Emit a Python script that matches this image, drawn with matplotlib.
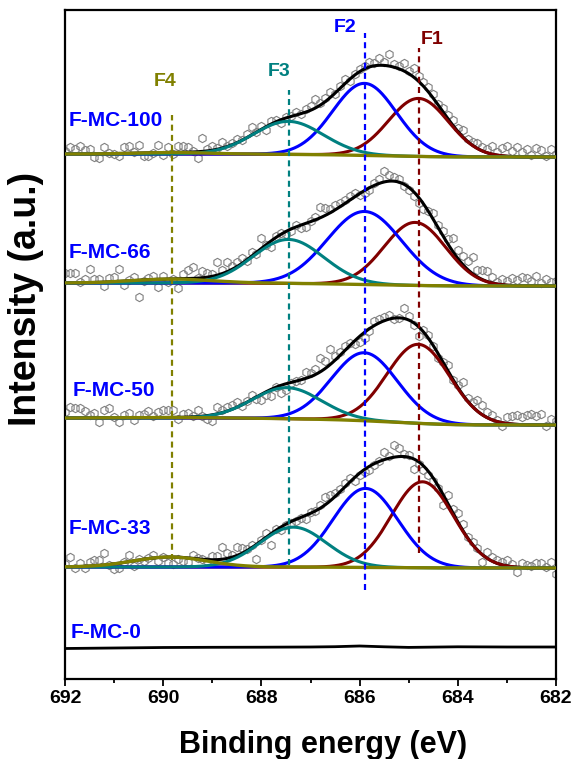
import numpy as np
import matplotlib
matplotlib.use('Agg')
import matplotlib.pyplot as plt

plt.rcParams['font.family'] = ['Liberation Sans', 'DejaVu Sans']
plt.rcParams['font.weight'] = 'bold'

# binding energy grid of the measured points (692 -> 682 eV, 0.1 eV step)
be = np.round(np.arange(692.0, 681.95, -0.1), 1)

# measured F 1s points, height above each spectrum's baseline (a.u.)
int_100 = [3, 7, 5, 8, 4, 5, -3, -4, 7, 1,
           0, -2, 7, 8, 2, 9, -2, -2, 1, 9,
           -1, 7, 0, 8, 8, 7, 3, -4, 16, 5,
           8, 6, 12, 8, 11, 15, 14, 20, 27, 22,
           28, 24, 33, 34, 31, 37, 38, 42, 40, 45,
           48, 55, 51, 56, 62, 60, 68, 75, 73, 80,
           85, 88, 92, 91, 96, 92, 100, 90, 88, 91,
           83, 86, 78, 72, 67, 60, 50, 46, 39, 34,
           26, 24, 15, 12, 11, 7, 5, 8, 2, 6,
           8, 3, 7, 2, 5, -1, 6, 4, -2, 5,
           0]
int_66 = [10, 10, 10, 1, 4, 14, 4, 4, -3, 5,
          6, 14, -2, 3, 6, -14, 2, 5, 7, -4,
          7, 1, 4, -5, 9, 13, 16, 5, 12, 10,
          9, 21, 13, 21, 17, 21, 25, 22, 31, 29,
          45, 38, 36, 47, 50, 49, 52, 58, 55, 56,
          62, 66, 76, 75, 74, 78, 80, 83, 87, 90,
          88, 90, 93, 100, 104, 112, 108, 106, 104, 97,
          93, 87, 80, 74, 72, 70, 58, 52, 44, 45,
          33, 27, 22, 26, 13, 13, 12, 6, 1, 4,
          2, 5, 3, 6, 5, 2, 7, 0, 4, 1,
          2]
int_50 = [6, 11, 10, 10, 7, 3, 5, -4, 8, 10,
          1, -4, 3, 5, -2, 3, 4, 7, 2, 6,
          8, 8, 8, -1, 4, 5, 2, 8, 2, -1,
          -3, 11, 8, 11, 13, 16, 12, 17, 23, 19,
          18, 23, 22, 31, 25, 28, 35, 37, 38, 46,
          45, 49, 60, 57, 69, 62, 66, 72, 75, 74,
          76, 80, 87, 97, 99, 101, 103, 99, 100, 110,
          102, 93, 82, 88, 83, 72, 60, 56, 53, 38,
          33, 36, 20, 16, 18, 13, 6, 3, -2, -8,
          1, 2, 3, 1, 3, 4, 2, 4, -8, -1,
          -3]
int_33 = [3, 10, -1, 4, -1, 5, 7, 7, 14, 2,
          -2, -1, 5, 12, 1, 8, 6, 9, 12, 6,
          10, 4, 3, 8, 6, 5, 12, 9, 8, 6,
          11, 11, 20, 14, 12, 20, 19, 18, 22, 8,
          27, 34, 22, 38, 37, 42, 44, 46, 49, 48,
          55, 56, 62, 70, 72, 74, 78, 84, 89, 86,
          92, 95, 97, 102, 106, 115, 111, 122, 119, 113,
          112, 98, 103, 97, 92, 86, 79, 62, 72, 58,
          54, 43, 30, 25, 19, 5, 15, 10, 7, 5,
          7, 3, -5, 4, 2, 1, 4, 4, 0, 5,
          -7]

samples = ['F-MC-100', 'F-MC-66', 'F-MC-50', 'F-MC-33']
points = [int_100, int_66, int_50, int_33]
offsets = [525, 396, 261, 112]
bg_steps = [3, 3, 7, 1]

# fitted components F1..F4: centre (eV), height, sigma (eV)
fit_100 = [(684.80, 58, 0.61), (685.90, 72, 0.65), (687.45, 33, 0.71), (689.80, 1.5, 0.70)]
fit_66 = [(684.87, 63, 0.63), (685.90, 73, 0.76), (687.45, 44, 0.72), (689.80, 4, 0.80)]
fit_50 = [(684.80, 79, 0.64), (685.90, 68, 0.67), (687.48, 31, 0.70), (689.80, 0.5, 0.70)]
fit_33 = [(684.72, 86, 0.63), (685.88, 79, 0.66), (687.35, 40, 0.68), (689.86, 10, 0.75)]
fits = [fit_100, fit_66, fit_50, fit_33]

# F-MC-0 trace (no fluorine)
be_0 = [692, 691, 690, 689, 688, 687, 686.5, 686, 685.5, 685, 684, 683, 682]
int_0 = [30.5, 31, 31.5, 31.7, 31.8, 32, 32.3, 33, 32.2, 31.6, 32.2, 32, 32]

comp_names = ['F1', 'F2', 'F3', 'F4']
comp_colors = ['#800000', '#0000ff', '#008080', '#808000']
# dashed marker for each component: top, bottom, label position
mark_top = [631, 646, 589, 564]
mark_bot = [126, 89, 114, 119]
label_xy = [(684.53, 639), (686.30, 651), (687.64, 607), (689.96, 597)]


def gauss(x, c, h, s):
    return h * np.exp(-(x - c) ** 2 / (2 * s ** 2))


fig = plt.figure(figsize=(5.74, 7.59), dpi=100)
ax = fig.add_axes([65 / 574, 1 - 679 / 759, 491 / 574, 669 / 759])

xf = np.linspace(682, 692, 600)
for name, pts, off, step, fit in zip(samples, points, offsets, bg_steps, fits):
    ax.plot(be, off + np.array(pts), 'h', ms=6, mfc='none', mec='#808080',
            mew=0.8, zorder=2)
    peaks = [gauss(xf, *p) for p in fit]
    total = np.sum(peaks, axis=0)
    # Shirley-type step background, higher on the high binding energy side
    cum = np.cumsum(total)
    bg = off - step + step * cum / cum[-1]
    ax.plot(xf, bg + total, color='black', lw=2.2, zorder=3)
    for pk, col in zip(peaks[:3], comp_colors[:3]):
        ax.plot(xf, bg + pk, color=col, lw=2.2, zorder=4)
    ax.plot(xf, bg + peaks[3], color=comp_colors[3], lw=2.4, zorder=5)

ax.plot(be_0, int_0, color='black', lw=2.0, zorder=3)

for i in range(4):
    xc = np.mean([f[i][0] for f in fits])
    ax.plot([xc, xc], [mark_bot[i], mark_top[i]], color=comp_colors[i], lw=1.6,
            dashes=(2.7, 1.9), zorder=6)
    ax.text(label_xy[i][0], label_xy[i][1], comp_names[i], color=comp_colors[i],
            fontsize=14, fontweight='bold', ha='center', va='center')

label_pos = [(691.93, 558), (691.93, 427), (691.84, 289), (691.93, 150), (691.88, 47)]
for txt, (lx, ly) in zip(samples + ['F-MC-0'], label_pos):
    ax.text(lx, ly, txt, color='#0000ff', fontsize=15, fontweight='bold',
            ha='left', va='center')

ax.set_xlim(692, 682)
ax.set_ylim(0, 669)
ax.set_xticks([692, 690, 688, 686, 684, 682])
ax.set_xticks([691, 689, 687, 685, 683], minor=True)
ax.set_yticks([])
ax.tick_params(axis='x', which='major', direction='out', length=5, width=1.3,
               labelsize=14, pad=3)
ax.tick_params(axis='x', which='minor', direction='out', length=3, width=1.3)
for sp in ax.spines.values():
    sp.set_linewidth(1.6)

fig.text(323 / 574, 1 - 745 / 759, 'Binding energy (eV)', fontsize=22,
         fontweight='bold', ha='center', va='center')
fig.text(26 / 574, 1 - 299 / 759, 'Intensity (a.u.)', fontsize=27,
         fontweight='bold', ha='center', va='center', rotation=90)

fig.savefig('out.png', dpi=100)
